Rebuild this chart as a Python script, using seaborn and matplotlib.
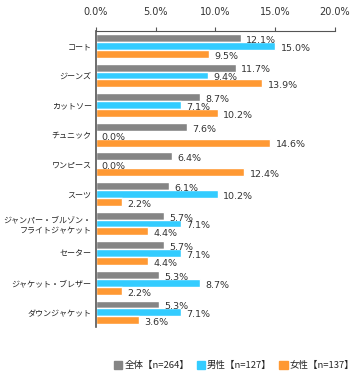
import pandas as pd
import numpy as np
import matplotlib.pyplot as plt
import seaborn as sns

categories = ["コート", "ジーンズ", "カットソー", "チュニック", "ワンピース", "スーツ",
              "ジャンパー・ブルゾン・\nフライトジャケット", "セーター", "ジャケット・ブレザー", "ダウンジャケット"]
series_names = ["全体【n=264】", "男性【n=127】", "女性【n=137】"]
total = [12.1, 11.7, 8.7, 7.6, 6.4, 6.1, 5.7, 5.7, 5.3, 5.3]
male = [15.0, 9.4, 7.1, 0.0, 0.0, 10.2, 7.1, 7.1, 8.7, 7.1]
female = [9.5, 13.9, 10.2, 14.6, 12.4, 2.2, 4.4, 4.4, 2.2, 3.6]
x_ticks = [0, 5, 10, 15, 20]
colors = ["#858585", "#33CCFF", "#FF9933"]


def build_frame():
    rows = []
    for name, vals in zip(series_names, [total, male, female]):
        for cat, v in zip(categories, vals):
            rows.append({"item": cat, "group": name, "value": v})
    return pd.DataFrame(rows)


def plot_chart(df):
    sns.set_style("white")
    plt.rcParams["font.family"] = ["Noto Sans CJK JP", "DejaVu Sans"]

    fig = plt.figure(figsize=(3.63, 3.84), dpi=100)
    ax = fig.add_axes([0.264, 0.148, 0.659, 0.771])

    sns.barplot(data=df, y="item", x="value", hue="group", orient="h",
                palette=colors, width=0.8, saturation=1, ax=ax, legend=False)

    for cont in ax.containers:
        for bar in cont:
            w = bar.get_width()
            ax.text(w + 0.45, bar.get_y() + bar.get_height() * 0.8, f"{w:.1f}%",
                    ha="left", va="center", fontsize=6.8, color="#333333",
                    family=["DejaVu Sans"])

    ax.set_xlim(0, 20)
    ax.set_xticks(x_ticks)
    ax.set_xticklabels([f"{t:.1f}%" for t in x_ticks], family=["DejaVu Sans"])
    ax.xaxis.tick_top()
    ax.tick_params(axis="x", direction="out", length=3, width=0.8, color="#555555",
                   labelsize=7, labelcolor="#333333", pad=7)
    ax.tick_params(axis="y", length=0, labelsize=5.8, labelcolor="#222222", pad=3)
    ax.set_xlabel("")
    ax.set_ylabel("")
    for s in ["right", "bottom"]:
        ax.spines[s].set_visible(False)
    ax.spines["left"].set_color("#555555")
    ax.spines["left"].set_linewidth(1.2)
    ax.spines["top"].set_color("#555555")
    ax.spines["top"].set_linewidth(0.8)
    ax.set_ylim(len(categories) - 0.5, -0.5)

    handles = [plt.Rectangle((0, 0), 1, 1, color=c) for c in colors]
    fig.legend(handles, series_names, loc="center", bbox_to_anchor=(0.645, 0.048),
               ncol=3, frameon=False, fontsize=6.8, handlelength=0.9, handleheight=0.9,
               handletextpad=0.2, columnspacing=0.8)

    fig.savefig("out.png", dpi=100)
    plt.close(fig)


plot_chart(build_frame())
